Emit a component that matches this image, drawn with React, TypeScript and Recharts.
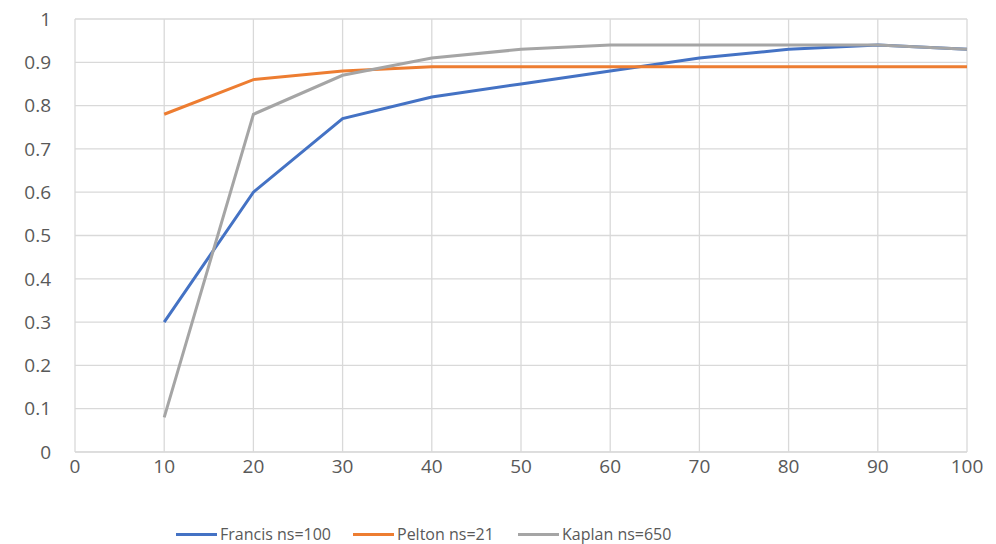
import React from 'react';
import { LineChart, Line, XAxis, YAxis, CartesianGrid, Legend } from 'recharts';

const xValues = [10, 20, 30, 40, 50, 60, 70, 80, 90, 100];
const francis = [0.3, 0.6, 0.77, 0.82, 0.85, 0.88, 0.91, 0.93, 0.94, 0.93];
const pelton = [0.78, 0.86, 0.88, 0.89, 0.89, 0.89, 0.89, 0.89, 0.89, 0.89];
const kaplan = [0.08, 0.78, 0.87, 0.91, 0.93, 0.94, 0.94, 0.94, 0.94, 0.93];

const xTicks = [0, 10, 20, 30, 40, 50, 60, 70, 80, 90, 100];
const yTicks = [0, 0.1, 0.2, 0.3, 0.4, 0.5, 0.6, 0.7, 0.8, 0.9, 1];

const SERIES = [
  { key: 'francis', name: 'Francis ns=100', color: '#4472C4' },
  { key: 'pelton', name: 'Pelton ns=21', color: '#ED7D31' },
  { key: 'kaplan', name: 'Kaplan ns=650', color: '#A5A5A5' },
];

// legend item left edges, Excel puts the legend a bit left of centre
const LEGEND_LEFT = [176, 353, 518];

const data = xValues.map((x, i) => ({
  x,
  francis: francis[i],
  pelton: pelton[i],
  kaplan: kaplan[i],
}));

const FONT = '"Open Sans", "Noto Sans", sans-serif';

const LegendContent = () => (
  <div style={{ position: 'relative', height: 24, fontFamily: FONT, fontSize: 16, color: '#595959', lineHeight: '24px' }}>
    {SERIES.map((s, i) => (
      <div key={s.key} style={{ position: 'absolute', left: LEGEND_LEFT[i], top: 0, display: 'flex', alignItems: 'center', whiteSpace: 'nowrap' }}>
        <span style={{ display: 'inline-block', width: 41, height: 3, background: s.color, marginRight: 3 }} />
        <span>{s.name}</span>
      </div>
    ))}
  </div>
);

export default function App() {
  return (
    <div style={{ position: 'absolute', left: 0, top: 0, width: 996, height: 544, background: '#fff' }}>
      <LineChart width={996} height={544} data={data} margin={{ top: 19, right: 29, left: 0, bottom: 0 }}>
        <CartesianGrid stroke="#D9D9D9" strokeWidth={1.3} />
        <XAxis
          dataKey="x"
          type="number"
          domain={[0, 100]}
          ticks={xTicks}
          height={68}
          tickLine={false}
          axisLine={{ stroke: '#D9D9D9' }}
          tick={{ fill: '#595959', fontSize: 19, fontFamily: FONT }}
          tickMargin={2}
        />
        <YAxis
          type="number"
          domain={[0, 1]}
          ticks={yTicks}
          width={75}
          tickLine={false}
          axisLine={false}
          tick={{ fill: '#595959', fontSize: 19, fontFamily: FONT }}
          tickMargin={18}
        />
        <Legend
          verticalAlign="bottom"
          height={24}
          wrapperStyle={{ left: 0, width: 996, bottom: -2 }}
          content={<LegendContent />}
        />
        {SERIES.map(s => (
          <Line
            key={s.key}
            dataKey={s.key}
            name={s.name}
            stroke={s.color}
            strokeWidth={3}
            dot={false}
            type="linear"
            isAnimationActive={false}
          />
        ))}
      </LineChart>
    </div>
  );
}
